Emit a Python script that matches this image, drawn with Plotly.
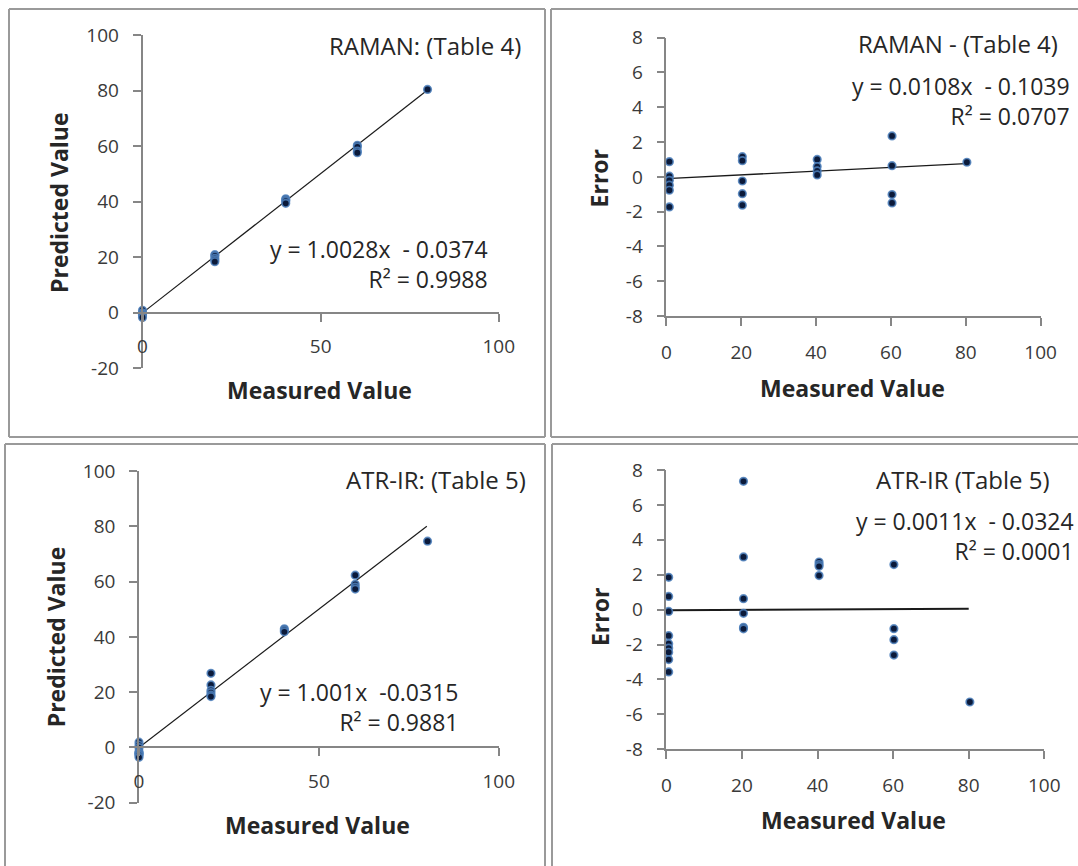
import plotly.graph_objects as go

W, H = 1078, 866

# ---------------- data ----------------
# RAMAN (Table 4) - predicted vs measured
raman_meas = [0, 0, 0, 0, 0, 0, 20.3, 20.3, 20.3, 20.3, 20.3, 40.2, 40.2, 40.2, 40.2, 60.3, 60.3, 60.3, 60.3, 80]
raman_pred = [0.9, 0.0, -0.3, -0.6, -0.9, -1.7, 20.9, 20.5, 19.6, 19.0, 18.4, 41.0, 40.6, 40.2, 39.4, 60.3, 59.7, 58.2, 57.6, 80.4]
raman_fit = [1.0028, -0.0374]          # slope, intercept
raman_fit_r2 = 0.9988

# RAMAN (Table 4) - error vs measured
raman_err_meas = [0.8, 0.8, 0.8, 0.8, 0.8, 0.8, 20.3, 20.3, 20.3, 20.3, 20.3, 40.3, 40.3, 40.3, 40.3, 60.3, 60.3, 60.3, 60.3, 80.3]
raman_err = [0.87, 0.04, -0.2, -0.48, -0.77, -1.73, 1.16, 0.93, -0.24, -0.97, -1.63, 1.0, 0.59, 0.34, 0.11, 2.35, 0.64, -1.02, -1.5, 0.84]
raman_err_fit = [0.0108, -0.1039]
raman_err_r2 = 0.0707

# ATR-IR (Table 5) - predicted vs measured
atr_meas = [0, 0, 0, 0, 0, 0, 0, 0, 0, 20, 20, 20, 20, 20, 20, 40.4, 40.4, 40.4, 60.1, 60.1, 60.1, 60.1, 80.2]
atr_pred = [1.9, 0.8, -0.1, -1.5, -2.0, -2.2, -2.4, -2.9, -3.6, 26.8, 22.6, 20.6, 19.8, 18.9, 18.4, 42.9, 42.4, 41.8, 62.3, 59.0, 58.0, 57.3, 74.6]
atr_fit = [1.001, -0.0315]
atr_fit_r2 = 0.9881

# ATR-IR (Table 5) - error vs measured
atr_err_meas = [0.6, 0.6, 0.6, 0.6, 0.6, 0.6, 0.6, 0.6, 0.6, 20.4, 20.4, 20.4, 20.4, 20.4, 20.4, 40.4, 40.4, 40.4, 40.4, 60.2, 60.2, 60.2, 60.2, 80.3]
atr_err = [1.85, 0.76, -0.1, -1.49, -1.95, -2.2, -2.44, -2.86, -3.57, 7.35, 3.02, 0.63, -0.21, -1.01, -1.1, 2.73, 2.58, 2.48, 1.95, 2.58, -1.09, -1.72, -2.6, -5.29]
atr_err_fit = [0.0011, -0.0324]
atr_err_r2 = 0.0001

fit_x = [0, 80]

# tick values / labels
pred_ticks = [-20, 0, 20, 40, 60, 80, 100]
pred_tick_text = ["-20", "0", "20", "40", "60", "80", "100"]
meas_ticks_a = [0, 50, 100]
meas_tick_text_a = ["0", "50", "100"]
meas_ticks_b = [0, 20, 40, 60, 80, 100]
meas_tick_text_b = ["0", "20", "40", "60", "80", "100"]
err_ticks = [-8, -6, -4, -2, 0, 2, 4, 6, 8]
err_tick_text = ["-8", "-6", "-4", "-2", "0", "2", "4", "6", "8"]

# ---------------- styling ----------------
FONT = "Open Sans"
TICK_FONT = dict(family=FONT, size=19, color="#3a3a3a")
AX_COL = "#868686"
MARKER = dict(size=7.5, color="#0b1a3a", line=dict(color="rgba(79,129,189,0.85)", width=1.7))


def px(x):
    return x / W


def py(y):
    return 1 - y / H


fig = go.Figure()

panels = [
    ("x", "y", raman_meas, raman_pred, raman_fit, 1.2),
    ("x2", "y2", raman_err_meas, raman_err, raman_err_fit, 1.4),
    ("x3", "y3", atr_meas, atr_pred, atr_fit, 1.2),
    ("x4", "y4", atr_err_meas, atr_err, atr_err_fit, 2.0),
]
for xa, ya, xs, ys, fit, lw in panels:
    fig.add_trace(go.Scatter(x=fit_x, y=[fit[0] * v + fit[1] for v in fit_x], mode="lines",
                             line=dict(color="#1a1a1a", width=lw), xaxis=xa, yaxis=ya,
                             showlegend=False, hoverinfo="skip", cliponaxis=False))
    fig.add_trace(go.Scatter(x=xs, y=ys, mode="markers", marker=MARKER, xaxis=xa, yaxis=ya,
                             showlegend=False, cliponaxis=False))


def ax_common():
    return dict(showgrid=False, zeroline=False, showline=True, linecolor=AX_COL, linewidth=1.5,
                ticks="outside", ticklen=8, tickcolor=AX_COL, tickwidth=1.5, tickfont=TICK_FONT,
                tickmode="array")


# plot-area domains, in pixels of the picture
dom = {
    1: ([142.5, 498.8], [368.3, 35.0]),
    2: ([666.4, 1040.6], [316.0, 37.7]),
    3: ([139.0, 498.8], [802.7, 471.0]),
    4: ([666.4, 1044.3], [749.3, 470.0]),
}


def xd(i):
    return [px(dom[i][0][0]), px(dom[i][0][1])]


def yd(i):
    return [py(dom[i][1][0]), py(dom[i][1][1])]


def zero_pos(i, lo, hi):
    d = yd(i)
    return d[0] + (0 - lo) / (hi - lo) * (d[1] - d[0])


lay = {}
lay["xaxis"] = dict(ax_common(), domain=xd(1), range=[0, 100], tickvals=meas_ticks_a, ticktext=meas_tick_text_a,
                    anchor="free", position=zero_pos(1, -20, 100), ticklabelstandoff=9)
lay["yaxis"] = dict(ax_common(), domain=yd(1), range=[-20, 100], tickvals=pred_ticks, ticktext=pred_tick_text,
                    anchor="x", ticklabelstandoff=10)
lay["xaxis2"] = dict(ax_common(), domain=xd(2), range=[0, 100], tickvals=meas_ticks_b, ticktext=meas_tick_text_b,
                     anchor="y2", ticklabelstandoff=10)
lay["yaxis2"] = dict(ax_common(), domain=yd(2), range=[-8, 8], tickvals=err_ticks, ticktext=err_tick_text,
                     anchor="x2", ticklabelstandoff=10)
lay["xaxis3"] = dict(ax_common(), domain=xd(3), range=[0, 100], tickvals=meas_ticks_a, ticktext=meas_tick_text_a,
                     anchor="free", position=zero_pos(3, -20, 100), ticklabelstandoff=9)
lay["yaxis3"] = dict(ax_common(), domain=yd(3), range=[-20, 100], tickvals=pred_ticks, ticktext=pred_tick_text,
                     anchor="x3", ticklabelstandoff=10)
lay["xaxis4"] = dict(ax_common(), domain=xd(4), range=[0, 100], tickvals=meas_ticks_b, ticktext=meas_tick_text_b,
                     anchor="y4", ticklabelstandoff=10)
lay["yaxis4"] = dict(ax_common(), domain=yd(4), range=[-8, 8], tickvals=err_ticks, ticktext=err_tick_text,
                     anchor="x4", ticklabelstandoff=10)

NB = "\u00a0"
annotations = []


def txt(text, x, y, xanchor="center", size=23, bold=False, angle=0, color="#262626"):
    t = f"<b>{text}</b>" if bold else text
    annotations.append(dict(text=t, x=px(x), y=py(y), xref="paper", yref="paper", xanchor=xanchor,
                            yanchor="middle", showarrow=False, textangle=angle, align="right",
                            font=dict(family=FONT, size=size, color=color)))


def eq_text(fit, r2, slope_fmt=".4f", sep=NB):
    return (f"y = {fit[0]:{slope_fmt}}x{NB}{NB}-{sep}{abs(fit[1]):.4f}<br>"
            f"R² = {r2:.4f}")


# panel titles and trendline equations (equation + R² as one right-aligned block)
TT = 24
txt("RAMAN: (Table 4)", 523, 45.7, "right", size=TT)
txt(eq_text(raman_fit, raman_fit_r2), 490, 264, "right")

txt("RAMAN - (Table 4)", 1060, 43, "right", size=TT)
txt(eq_text(raman_err_fit, raman_err_r2), 1072, 101, "right")

txt("ATR-IR: (Table 5)", 528, 480, "right", size=TT)
txt(eq_text(atr_fit, atr_fit_r2, ".3f", ""), 460, 706.7, "right")

txt("ATR-IR (Table 5)", 1051.8, 479.3, "right", size=TT)
txt(eq_text(atr_err_fit, atr_err_r2), 1075.6, 536, "right")

# axis titles
TS = 23
txt("Measured Value", 319.8, 390, bold=True, size=TS)
txt("Predicted Value", 59, 203, bold=True, size=TS, angle=-90)
txt("Measured Value", 852.8, 388.3, bold=True, size=TS)
txt("Error", 599.4, 178, bold=True, size=TS, angle=-90)
txt("Measured Value", 317, 825, bold=True, size=TS)
txt("Predicted Value", 55.6, 636.7, bold=True, size=TS, angle=-90)
txt("Measured Value", 853.6, 820, bold=True, size=TS)
txt("Error", 599.4, 616.7, bold=True, size=TS, angle=-90)

# panel frames (edges that fall inside the picture)
BORDER = dict(color="#9a9a9a", width=2)
shapes = []
edges = [
    (9, 9, 545, 9), (9, 9, 9, 437), (545, 9, 545, 437), (9, 437, 545, 437),
    (551, 9, 1078, 9), (551, 9, 551, 437), (551, 437, 1078, 437),
    (5, 444, 545, 444), (5, 444, 5, 866), (545, 444, 545, 866),
    (552, 444, 1078, 444), (552, 444, 552, 866),
]
for (x0, y0, x1, y1) in edges:
    shapes.append(dict(type="line", xref="paper", yref="paper", x0=px(x0), x1=px(x1), y0=py(y0), y1=py(y1),
                       line=BORDER, layer="below"))

fig.update_layout(
    width=W, height=H, margin=dict(l=0, r=0, t=0, b=0, pad=0, autoexpand=False),
    paper_bgcolor="white", plot_bgcolor="white",
    showlegend=False, annotations=annotations, shapes=shapes,
    **lay,
)

fig.write_html("out.html")
